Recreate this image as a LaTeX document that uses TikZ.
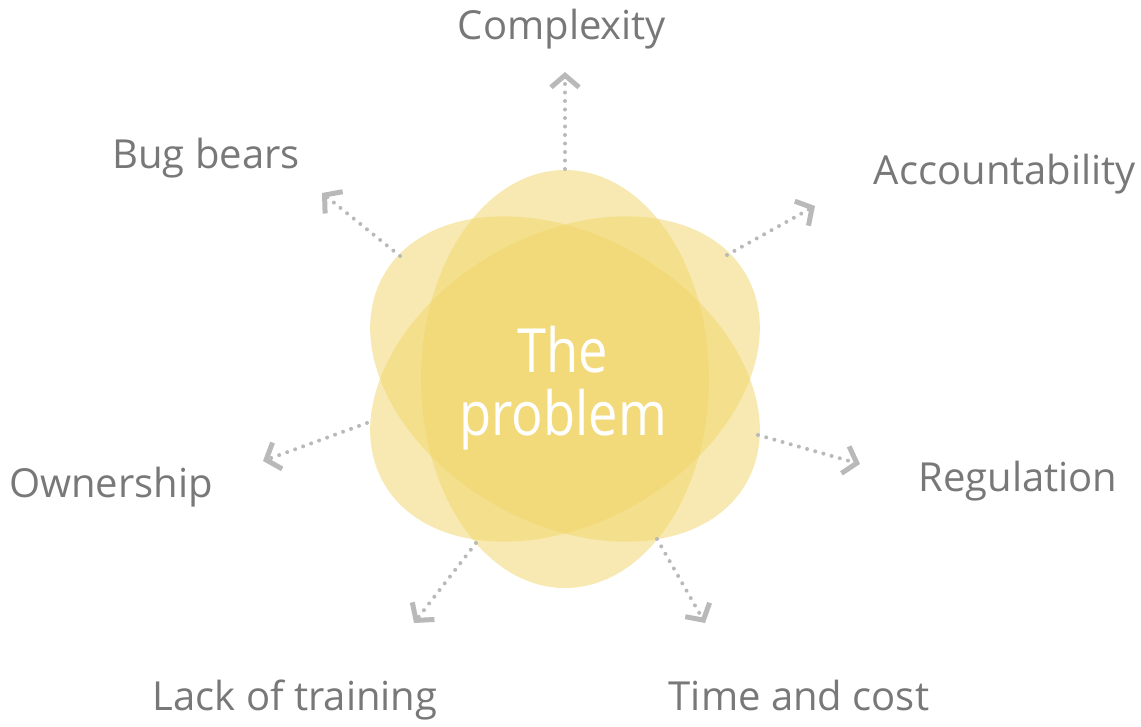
\documentclass[tikz,border=0pt]{standalone}
\usepackage{fontspec}
\setmainfont{Open Sans}
\newfontfamily\centrefont[FakeStretch=0.86]{Open Sans}
\usetikzlibrary{arrows.meta}
\definecolor{petalyellow}{RGB}{240,214,108}
\definecolor{topicgray}{RGB}{120,120,120}
\definecolor{linkgray}{RGB}{185,185,185}
\begin{document}
\begin{tikzpicture} [
                x=1pt, y=-1pt,
                petal/.style={fill=petalyellow, fill opacity=0.53},
                topic/.style={text=topicgray, font=\fontsize{40}{48}\selectfont, anchor=base, inner sep=0pt},
                link/.style={draw=linkgray, line width=4pt, line cap=round, dash pattern=on 0pt off 8.5pt,
                    -{Straight Barb[length=12pt, width=28pt, line width=5pt]}},
            ]
            \useasboundingbox (0,0) rectangle (1141,726);
            % three overlapping petals
            \foreach \ang in {0,60,-60}
                \path[petal, rotate around={\ang:(565,379)}] (565,379) ellipse [x radius=144pt, y radius=209pt];
            \node[text=white, font=\centrefont\fontsize{61}{63}\selectfont, align=center, inner sep=0pt]
                (problem) at (563,388) {The\\problem};
            % topics around the problem
            \foreach \x/\y/\name/\words in {
                    562/39/complexity/Complexity, 206/168/bugbears/Bug bears,
                    1005/184/accountability/Accountability, 111/497/ownership/Ownership,
                    1018/491/regulation/Regulation, 295/710/training/Lack of training,
                    799/710/timecost/Time and cost}
                \node[topic] (\name) at (\x,\y) {\words};
            % arrows: from the petals towards each topic
            \foreach \sx/\sy/\tx/\ty/\name in {
                    565/169/565/72/complexity, 400/256/322/193/bugbears,
                    727/255/815/206/accountability, 367/423/263/461/ownership,
                    758/435/860/464/regulation, 476/543/414/623/training,
                    657/539/705/623/timecost} {
                \coordinate (\name start) at (\sx,\sy);
                \coordinate (\name tip) at (\tx,\ty);
                \path[link] (\name start) -- (\name tip);
            }
        \end{tikzpicture}
\end{document}
